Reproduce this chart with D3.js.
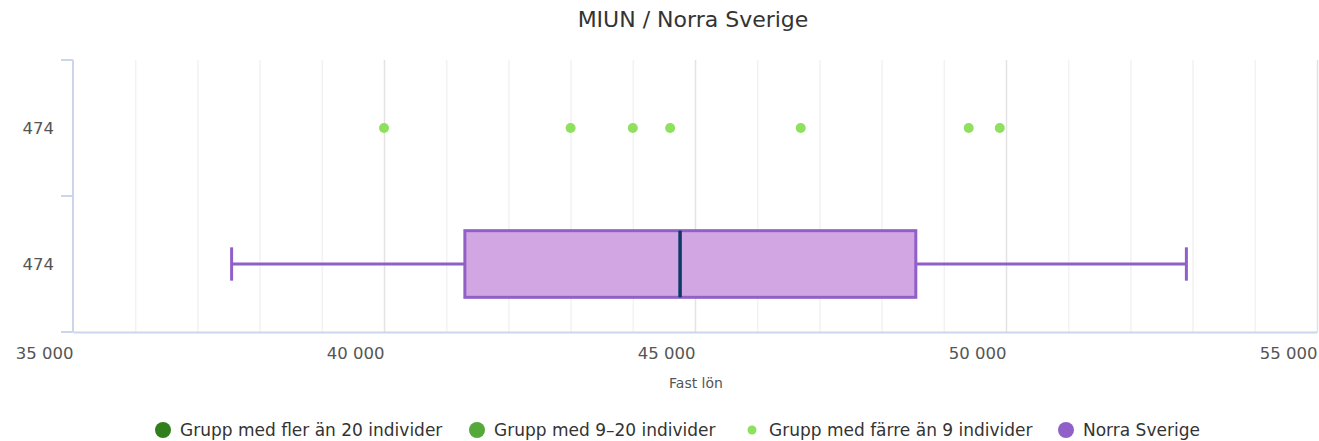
<!DOCTYPE html>
<html>
<head>
<meta charset="utf-8">
<script src="https://cdn.jsdelivr.net/npm/d3@7"></script>
<style>
  body { margin: 0; background: #fff; }
  svg { display: block; font-family: 'DejaVu Sans', sans-serif; }
</style>
</head>
<body>
<svg id="chart"></svg>
<script>
var categories = ['474', '474'];
var xTicks = [35000, 40000, 45000, 50000, 55000];
// box for Norra Sverige: low, q1, median, q3, high
var boxLabels = ['low', 'q1', 'median', 'q3', 'high'];
var boxValues = [37550, 41300, 44760, 48550, 52900];
// small groups (fewer than 9 individuals)
var smallGroupValues = [40000, 43000, 44000, 44600, 46700, 49400, 49900];
var legendLabels = ['Grupp med fler än 20 individer', 'Grupp med 9–20 individer', 'Grupp med färre än 9 individer', 'Norra Sverige'];

var width = 1319, height = 441,
  margin = { top: 60, right: 2, bottom: 109, left: 73 },
  innerWidth = width - margin.left - margin.right,
  innerHeight = height - margin.top - margin.bottom,
  colors = ['#317f1c', '#55a83a', '#8ee05e', '#9060c8'];

var svg = d3.select('#chart').attr('width', width).attr('height', height);

var xScale = d3.scaleLinear().domain([35000, 55000]).range([0, innerWidth]),
  yScale = d3.scaleBand().domain([0, 1]).range([0, innerHeight]);

var fmt = function (v) { return d3.format(',')(v).replace(',', ' '); };

svg.append('text')
  .attr('x', 693)
  .attr('y', 27)
  .attr('text-anchor', 'middle')
  .attr('font-size', 22)
  .attr('fill', '#333')
  .text('MIUN / Norra Sverige');

var g = svg.append('g')
  .attr('transform', `translate(${margin.left}, ${margin.top})`);

// grid lines, every 1000 with stronger lines on labeled ticks
g.selectAll('.grid')
  .data(d3.range(36000, 55001, 1000))
  .enter()
  .append('line')
  .attr('x1', (d) => xScale(d) + 0.5)
  .attr('x2', (d) => xScale(d) + 0.5)
  .attr('y1', 0)
  .attr('y2', innerHeight)
  .attr('stroke', (d) => (d % 5000 === 0 ? '#e3e3e3' : '#f2f2f2'))
  .attr('stroke-width', 1.5);

// y axis
var yAxis = d3.axisLeft(yScale).tickSize(0).tickFormat((d) => categories[d]);
var yG = g.append('g').call(yAxis);
yG.select('.domain').remove();
yG.selectAll('text').attr('x', -19).attr('dy', '0.36em').attr('font-size', 16.5)
  .attr('fill', '#555').attr('font-family', 'DejaVu Sans');

g.append('line')
  .attr('x1', 0).attr('x2', 0).attr('y1', 0).attr('y2', innerHeight)
  .attr('stroke', '#ccd6eb').attr('stroke-width', 2);
g.selectAll('.ytick')
  .data([0, innerHeight / 2, innerHeight])
  .enter()
  .append('line')
  .attr('x1', -12).attr('x2', 0)
  .attr('y1', (d) => d).attr('y2', (d) => d)
  .attr('stroke', '#ccd6eb').attr('stroke-width', 2);

// x axis, labels right-aligned on their tick
var xAxis = d3.axisBottom(xScale).tickValues(xTicks).tickSize(0).tickFormat(fmt);
var xG = g.append('g').attr('transform', 'translate(0,' + innerHeight + ')').call(xAxis);
xG.select('.domain').attr('stroke', '#ccd6eb').attr('stroke-width', 2);
xG.selectAll('text').attr('y', 27).attr('dy', 0).attr('font-size', 16.5)
  .attr('fill', '#555').attr('font-family', 'DejaVu Sans')
  .attr('text-anchor', 'end');

g.append('text')
  .attr('x', xScale(45000) + 1)
  .attr('y', innerHeight + 56)
  .attr('text-anchor', 'middle')
  .attr('font-size', 14)
  .attr('fill', '#555')
  .text('Fast lön');

// box plot
var box = {};
boxLabels.forEach((k, i) => { box[k] = boxValues[i]; });
var cy = yScale(1) + yScale.bandwidth() / 2,
  boxH = yScale.bandwidth() * 0.49,
  capH = boxH / 2;

g.append('line')
  .attr('x1', xScale(box.low)).attr('x2', xScale(box.q1))
  .attr('y1', cy).attr('y2', cy)
  .attr('stroke', colors[3]).attr('stroke-width', 3);
g.append('line')
  .attr('x1', xScale(box.q3)).attr('x2', xScale(box.high))
  .attr('y1', cy).attr('y2', cy)
  .attr('stroke', colors[3]).attr('stroke-width', 3);
[box.low, box.high].forEach(function (v) {
  g.append('line')
    .attr('x1', xScale(v)).attr('x2', xScale(v))
    .attr('y1', cy - capH / 2).attr('y2', cy + capH / 2)
    .attr('stroke', colors[3]).attr('stroke-width', 3);
});
g.append('rect')
  .attr('x', xScale(box.q1))
  .attr('y', cy - boxH / 2)
  .attr('width', xScale(box.q3) - xScale(box.q1))
  .attr('height', boxH)
  .attr('fill', '#d2a6e2')
  .attr('stroke', colors[3])
  .attr('stroke-width', 3);
g.append('line')
  .attr('x1', xScale(box.median)).attr('x2', xScale(box.median))
  .attr('y1', cy - boxH / 2).attr('y2', cy + boxH / 2)
  .attr('stroke', '#0b3a66').attr('stroke-width', 3.5);

// points
var py = yScale(0) + yScale.bandwidth() / 2;
g.selectAll('.pt')
  .data(smallGroupValues)
  .enter()
  .append('circle')
  .attr('cx', (d) => xScale(d))
  .attr('cy', py)
  .attr('r', 5)
  .attr('fill', colors[2]);

// legend
var legend = svg.append('g').attr('font-size', 17).attr('fill', '#333');
var radii = [8, 8, 4.5, 8];
var itemX = [163, 477, 752, 1066];
legendLabels.forEach(function (label, i) {
  var item = legend.append('g').attr('transform', `translate(${itemX[i]}, 430)`);
  item.append('circle').attr('r', radii[i]).attr('fill', colors[i]);
  item.append('text').attr('x', 17).attr('y', 6).text(label);
});
</script>
</body>
</html>
